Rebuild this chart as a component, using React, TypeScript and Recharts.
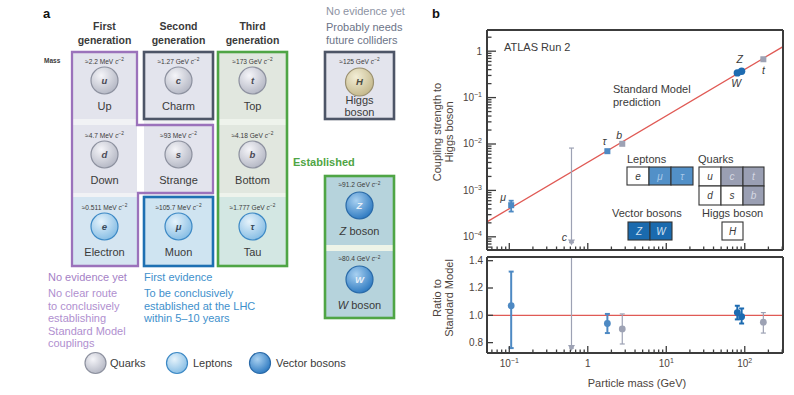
import React from "react";
import { ComposedChart, Scatter, Line, XAxis, YAxis, ErrorBar, ReferenceLine } from "recharts";

const FONT = '"Liberation Sans", Arial, sans-serif';
const INK = "#3a3a3a";
const AXIS_INK = "#4d443d";
const FRAME = "#3c3c3c";

// ---- panel b: ATLAS Run 2 couplings ----
const particles = ["μ", "c", "τ", "b", "W", "Z", "t"];
const families = ["lepton", "quark", "lepton", "quark", "boson", "boson", "quark"];
const massGeV = [0.1057, 0.62, 1.777, 2.75, 80.4, 91.2, 172.5];
const coupling = [0.00048, 0.000075, 0.007, 0.0101, 0.34, 0.37, 0.67];
const couplingErrLow = [0.00013, 0, 0.0004, 0.0007, 0.01, 0.01, 0.04];
const couplingErrHigh = [0.00012, 0.0081, 0.0004, 0.0007, 0.01, 0.01, 0.03];
const ratio = [1.07, 0.76, 0.94, 0.9, 1.02, 0.99, 0.95];
const ratioErrLow = [0.31, 0, 0.07, 0.11, 0.05, 0.05, 0.08];
const ratioErrHigh = [0.25, 0.67, 0.07, 0.11, 0.05, 0.06, 0.07];

const smLineMass = [0.052, 307];
const smLineCoupling = [0.00021, 1.25];

const X_DOMAIN = [0.052, 307];
const Y_DOMAIN = [0.000052, 2.86];
const R_DOMAIN = [0.724, 1.427];
const X_MAJOR = [0.1, 1, 10, 100];
const X_LABELS = [["10", "−1"], ["1", ""], ["10", "1"], ["10", "2"]];
const Y_MAJOR = [0.0001, 0.001, 0.01, 0.1, 1];
const Y_LABELS = [["10", "−4"], ["10", "−3"], ["10", "−2"], ["10", "−1"], ["1", ""]];
const R_TICKS = [0.8, 1.0, 1.2, 1.4];
const R_LABELS = ["0.8", "1.0", "1.2", "1.4"];

// ---- panel a: particle table ----
const cellSymbols = ["u", "c", "t", "d", "s", "b", "e", "μ", "τ"];
const cellNames = ["Up", "Charm", "Top", "Down", "Strange", "Bottom", "Electron", "Muon", "Tau"];
const cellMasses = ["≈2.2 MeV", "≈1.27 GeV", "≈173 GeV", "≈4.7 MeV", "≈93 MeV", "≈4.18 GeV", "≈0.511 MeV", "≈105.7 MeV", "≈1.777 GeV"];
const cellKinds = ["quark", "quark", "quark", "quark", "quark", "quark", "lepton", "lepton", "lepton"];
const bosonSymbols = ["H", "Z", "W"];
const bosonMasses = ["≈125 GeV", "≈91.2 GeV", "≈80.4 GeV"];
const generations = ["First", "Second", "Third"];
const legendKinds = ["quark", "lepton", "boson"];
const legendNames = ["Quarks", "Leptons", "Vector bosons"];

const familyColor: Record<string, string> = { lepton: "#4d89c3", quark: "#9da2b4", boson: "#1d6bb1" };

const points = particles.map((name, i) => ({
  name,
  family: families[i],
  mass: massGeV[i],
  coupling: coupling[i],
  cErr: [couplingErrLow[i], couplingErrHigh[i]],
  ratio: ratio[i],
  rErr: [ratioErrLow[i], ratioErrHigh[i]],
}));
const smLine = smLineMass.map((mass, i) => ({ mass, coupling: smLineCoupling[i] }));

function logTicks(majors: number[], lo: number, hi: number) {
  const out: number[] = [];
  [majors[0] / 10, ...majors].forEach((d) => {
    for (let k = 1; k < 10; k++) {
      const v = k === 1 ? d : d * k;
      if (v >= lo && v <= hi) out.push(v);
    }
  });
  return out;
}
const xTicks = logTicks(X_MAJOR, X_DOMAIN[0], X_DOMAIN[1]);
const yTicks = logTicks(Y_MAJOR, Y_DOMAIN[0], Y_DOMAIN[1]);

function Pow({ x, y, base, exp, anchor }: any) {
  return (
    <text x={x} y={y} textAnchor={anchor} fontSize={10} fill={AXIS_INK} fontFamily={FONT}>
      {base}
      {exp ? (
        <tspan dy={-4} fontSize={7}>
          {exp}
        </tspan>
      ) : null}
    </text>
  );
}

// dir 1: axis at bottom, ticks go up; dir -1: axis at top, ticks go down
const makeXTick = (dir: number, labels: boolean) => (p: any) => {
  const v = p.payload.value;
  const mi = X_MAJOR.indexOf(v);
  const len = mi >= 0 ? 7 : 3.5;
  return (
    <g>
      <line x1={p.x} x2={p.x} y1={p.y} y2={p.y - dir * len} stroke={FRAME} strokeWidth={1.3} />
      {labels && mi >= 0 ? <Pow x={p.x} y={p.y + 14} base={X_LABELS[mi][0]} exp={X_LABELS[mi][1]} anchor="middle" /> : null}
    </g>
  );
};

const CouplingTick = (p: any) => {
  const v = p.payload.value;
  const mi = Y_MAJOR.indexOf(v);
  const len = mi >= 0 ? 9 : 4.5;
  return (
    <g>
      <line x1={p.x} x2={p.x + len} y1={p.y} y2={p.y} stroke={FRAME} strokeWidth={1.3} />
      {mi >= 0 ? <Pow x={p.x - 5} y={p.y + 3.5} base={Y_LABELS[mi][0]} exp={Y_LABELS[mi][1]} anchor="end" /> : null}
    </g>
  );
};

const RatioTick = (p: any) => {
  const i = R_TICKS.indexOf(p.payload.value);
  return (
    <g>
      <line x1={p.x} x2={p.x + 6} y1={p.y} y2={p.y} stroke={FRAME} strokeWidth={1.3} />
      <text x={p.x - 4} y={p.y + 3.5} textAnchor="end" fontSize={10} fill={AXIS_INK} fontFamily={FONT}>
        {R_LABELS[i]}
      </text>
    </g>
  );
};

const topLabelOffset: Record<string, number[]> = {
  "μ": [-8, -4],
  c: [-7, -2],
  "τ": [-3, -6],
  b: [-3, -5],
  Z: [-2, -8],
  W: [-1, 14],
  t: [0, 15],
};

function TopMarker(props: any) {
  const { cx, cy, payload } = props;
  if (cx == null || cy == null) return null;
  const color = familyColor[payload.family];
  const off = topLabelOffset[payload.name];
  let mark;
  if (payload.name === "c") mark = <path d={`M${cx - 3.5},${cy - 3} L${cx + 3.5},${cy - 3} L${cx},${cy + 3} Z`} fill={color} />;
  else if (payload.family === "boson") mark = <circle cx={cx} cy={cy} r={3.7} fill={color} />;
  else mark = <rect x={cx - 3} y={cy - 3} width={6} height={6} fill={color} />;
  return (
    <g>
      {mark}
      <text x={cx + off[0]} y={cy + off[1]} textAnchor="middle" fontSize={10.5} fontStyle="italic" fill={INK} fontFamily={FONT}>
        {payload.name}
      </text>
    </g>
  );
}

function RatioMarker(props: any) {
  const { cx, cy, payload } = props;
  if (cx == null || cy == null) return null;
  const color = familyColor[payload.family];
  if (payload.name === "c") return <path d={`M${cx - 3.5},${cy - 3} L${cx + 3.5},${cy - 3} L${cx},${cy + 3} Z`} fill={color} />;
  return <circle cx={cx} cy={cy} r={3.4} fill={color} />;
}

const frameLine = { stroke: FRAME, strokeWidth: 2 };
const famList = ["quark", "lepton", "boson"];

// axes need a non-zero size to render, so each takes 1px out of the margins
function CouplingChart() {
  return (
    <ComposedChart width={374} height={260} margin={{ top: 29, right: 10, bottom: 9, left: 66 }}>
      <XAxis dataKey="mass" type="number" scale="log" domain={X_DOMAIN} allowDataOverflow ticks={xTicks} interval={0}
        tick={makeXTick(1, false)} tickLine={false} tickSize={0} tickMargin={0} height={1} axisLine={frameLine} />
      <XAxis xAxisId="top" orientation="top" type="number" scale="log" domain={X_DOMAIN} allowDataOverflow
        tick={false} tickLine={false} height={1} axisLine={frameLine} />
      <YAxis dataKey="coupling" type="number" scale="log" domain={Y_DOMAIN} allowDataOverflow ticks={yTicks} interval={0}
        tick={CouplingTick} tickLine={false} tickSize={0} tickMargin={0} width={1} axisLine={frameLine} />
      <YAxis yAxisId="right" orientation="right" type="number" scale="log" domain={Y_DOMAIN} allowDataOverflow
        tick={false} tickLine={false} width={1} axisLine={frameLine} />
      <Line data={smLine} dataKey="coupling" stroke="#e05a55" strokeWidth={1.3} dot={false} isAnimationActive={false} />
      {famList.map((f) => (
        <Scatter key={f} data={points.filter((p) => p.family === f)} dataKey="coupling" shape={TopMarker} isAnimationActive={false}>
          <ErrorBar dataKey="cErr" direction="y" width={2.5} stroke={familyColor[f]} strokeWidth={f === "quark" ? 1.2 : 1.8} />
        </Scatter>
      ))}
    </ComposedChart>
  );
}

function RatioChart() {
  return (
    <ComposedChart width={374} height={145} margin={{ top: 6, right: 10, bottom: 41, left: 66 }}>
      <XAxis dataKey="mass" type="number" scale="log" domain={X_DOMAIN} allowDataOverflow ticks={xTicks} interval={0}
        tick={makeXTick(1, true)} tickLine={false} tickSize={0} tickMargin={0} height={1} axisLine={frameLine} />
      <XAxis xAxisId="top" orientation="top" type="number" scale="log" domain={X_DOMAIN} allowDataOverflow ticks={xTicks} interval={0}
        tick={makeXTick(-1, false)} tickLine={false} tickSize={0} tickMargin={0} height={1} axisLine={frameLine} />
      <YAxis dataKey="ratio" type="number" domain={R_DOMAIN} allowDataOverflow ticks={R_TICKS} interval={0}
        tick={RatioTick} tickLine={false} tickSize={0} tickMargin={0} width={1} axisLine={frameLine} />
      <YAxis yAxisId="right" orientation="right" type="number" domain={R_DOMAIN} allowDataOverflow
        tick={false} tickLine={false} width={1} axisLine={frameLine} />
      <ReferenceLine y={1} stroke="#e05a55" strokeWidth={1.3} />
      {famList.map((f) => (
        <Scatter key={f} data={points.filter((p) => p.family === f)} dataKey="ratio" shape={RatioMarker} isAnimationActive={false}>
          <ErrorBar dataKey="rErr" direction="y" width={2.5} stroke={familyColor[f]} strokeWidth={f === "quark" ? 1.2 : 2} />
        </Scatter>
      ))}
    </ComposedChart>
  );
}

// ---- panel a drawing ----
const ballGrad: Record<string, string[]> = {
  quark: ["#f5f5f9", "#b3b6c3", "#8d919f", "#4a4a55"],
  lepton: ["#e6f3fb", "#84bce4", "#3d89c5", "#3a4a5a"],
  boson: ["#a9d1f1", "#2b78c0", "#2a6aa8", "#e8f0f8"],
  higgs: ["#f3eed6", "#c3b78a", "#9a9070", "#4a4a40"],
};

function Ball({ cx, cy, r, kind, letter }: any) {
  const g = ballGrad[kind];
  return (
    <g>
      <circle cx={cx} cy={cy} r={r} fill={`url(#grad-${kind})`} stroke={g[2]} strokeWidth={1.2} />
      {letter ? (
        <text x={cx} y={cy + 3.4} textAnchor="middle" fontSize={9.5} fontStyle="italic" fontWeight="bold" fill={g[3]} fontFamily={FONT}>
          {letter}
        </text>
      ) : null}
    </g>
  );
}

function MassLabel({ x, y, text }: any) {
  return (
    <text x={x} y={y} textAnchor="middle" fontSize={6.6} fill={INK} fontFamily={FONT}>
      {text} <tspan fontStyle="italic">c</tspan>
      <tspan dy={-2.5} fontSize={4.8}>−2</tspan>
    </text>
  );
}

const colLeft = [72, 144, 218];
const colWidth = [65, 69, 69];
const rowTop = [52, 125, 197];
const rowBottom = [119, 193, 266];
const rowAnchor = [52, 126, 198];
const cellFill = ["#e3e4ed", "#e3e4ed", "#e1e7df", "#e3e4ed", "#e3e4ed", "#e1e7df", "#d5e5f1", "#cfe4f1", "#d3e7e3"];

function Cell({ i }: { i: number }) {
  const r = Math.floor(i / 3);
  const c = i % 3;
  const cx = colLeft[c] + colWidth[c] / 2;
  const a = rowAnchor[r];
  return (
    <g>
      <rect x={colLeft[c]} y={rowTop[r]} width={colWidth[c]} height={rowBottom[r] - rowTop[r]} fill={cellFill[i]} />
      <MassLabel x={cx} y={a + 11.5} text={cellMasses[i]} />
      <Ball cx={cx} cy={a + 28.5} r={13.5} kind={cellKinds[i]} letter={cellSymbols[i]} />
      <text x={cx} y={a + 57.5} textAnchor="middle" fontSize={11} fill={INK} fontFamily={FONT}>
        {cellNames[i]}
      </text>
    </g>
  );
}

function LegendBox({ x, y, w, h, fill, letter, color }: any) {
  return (
    <g>
      <rect x={x} y={y} width={w} height={h} fill={fill} stroke="#333" strokeWidth={1.1} />
      <text x={x + w / 2} y={y + h / 2 + 3.6} textAnchor="middle" fontSize={10} fontStyle="italic" fill={color} fontFamily={FONT}>
        {letter}
      </text>
    </g>
  );
}

function Background() {
  const t = { fontFamily: FONT, fontSize: 11 };
  return (
    <svg width={794} height={395} style={{ position: "absolute", left: 0, top: 0 }}>
      <defs>
        {Object.keys(ballGrad).map((k) => (
          <radialGradient key={k} id={`grad-${k}`} cx="38%" cy="32%" r="72%">
            <stop offset="0%" stopColor={ballGrad[k][0]} />
            <stop offset="100%" stopColor={ballGrad[k][1]} />
          </radialGradient>
        ))}
      </defs>
      {/* panel a */}
      <text x={43} y={18} fontSize={13} fontWeight="bold" fill="#111" fontFamily={FONT}>a</text>
      {generations.map((g, c) => (
        <text key={g} x={colLeft[c] + colWidth[c] / 2} y={30} textAnchor="middle" fontSize={10.5} fontWeight="bold" fill={INK} fontFamily={FONT}>
          {g}
          <tspan x={colLeft[c] + colWidth[c] / 2} dy={13.5}>generation</tspan>
        </text>
      ))}
      <text x={44} y={63} fontSize={6.5} fontWeight="bold" fill={INK} fontFamily={FONT}>Mass</text>
      <rect x={72} y={52} width={65} height={214} fill="#f1f2f5" />
      <rect x={144} y={52} width={69} height={214} fill="#f1f2f5" />
      <rect x={218} y={52} width={69} height={214} fill="#eef3ec" />
      {cellSymbols.map((_, i) => (
        <Cell key={i} i={i} />
      ))}
      {/* Higgs */}
      <rect x={325} y={52} width={69} height={67} fill="#e3e4ed" />
      <MassLabel x={359.5} y={63.5} text={bosonMasses[0]} />
      <Ball cx={359.5} cy={82} r={14} kind="higgs" letter={bosonSymbols[0]} />
      <text x={359.5} y={104} textAnchor="middle" {...t} fill={INK}>Higgs</text>
      <text x={359.5} y={116} textAnchor="middle" {...t} fill={INK}>boson</text>
      {/* Z and W */}
      <rect x={325} y={176} width={69} height={142} fill="#eef4e8" />
      <rect x={325} y={176} width={69} height={69} fill="#b6d3dc" />
      <rect x={325} y={251} width={69} height={67} fill="#b6d3dc" />
      {[176, 250].map((a, k) => (
        <g key={k}>
          <MassLabel x={359.5} y={a + 11} text={bosonMasses[k + 1]} />
          <Ball cx={359.5} cy={a + 29.5} r={13.5} kind="boson" letter={bosonSymbols[k + 1]} />
          <text x={359.5} y={a + 59} textAnchor="middle" {...t} fill={INK}>
            <tspan fontStyle="italic">{bosonSymbols[k + 1]}</tspan> boson
          </text>
        </g>
      ))}
      {/* group borders */}
      <polygon points="72,52 137,52 137,125 213,125 213,193 138,193 138,266 72,266" fill="none" stroke="#9b72bb" strokeWidth={2.3} />
      <rect x={144} y={52} width={69} height={67} fill="none" stroke="#4d5567" strokeWidth={2.6} />
      <rect x={144} y={197} width={69} height={69} fill="none" stroke="#1e70b2" strokeWidth={2.6} />
      <rect x={218} y={52} width={69} height={214} fill="none" stroke="#4fa545" strokeWidth={2.6} />
      <rect x={325} y={52} width={69} height={67} fill="none" stroke="#4d5567" strokeWidth={2.6} />
      <rect x={325} y={176} width={69} height={142} fill="none" stroke="#4fa545" strokeWidth={2.6} />
      {/* annotations */}
      <text x={326} y={15} {...t} fill="#8d93a3">No evidence yet</text>
      <text x={326} y={31} {...t} fill="#6c7488">Probably needs</text>
      <text x={326} y={43.5} {...t} fill="#6c7488">future colliders</text>
      <text x={293} y={166} {...t} fontWeight="bold" fill="#4fa545">Established</text>
      <text x={48} y={281} {...t} fill="#a57fc6">No evidence yet</text>
      {["No clear route", "to conclusively", "establishing", "Standard Model", "couplings"].map((s, k) => (
        <text key={s} x={48} y={297 + k * 12.5} {...t} fill="#b08fcf">{s}</text>
      ))}
      <text x={144} y={281} {...t} fill="#3e90cc">First evidence</text>
      {["To be conclusively", "established at the LHC", "within 5–10 years"].map((s, k) => (
        <text key={s} x={144} y={297 + k * 12.5} {...t} fill="#3e90cc">{s}</text>
      ))}
      {legendKinds.map((k, i) => (
        <g key={k}>
          <Ball cx={[95.5, 177, 260][i]} cy={363} r={10.5} kind={k} />
          <text x={[110, 193, 276][i]} y={367} {...t} fill={INK}>{legendNames[i]}</text>
        </g>
      ))}

      {/* panel b annotations */}
      <text x={432} y={18} fontSize={13} fontWeight="bold" fill="#111" fontFamily={FONT}>b</text>
      <text x={504} y={51} {...t} fill={INK}>ATLAS Run 2</text>
      <text x={613} y={93} {...t} fill={INK}>Standard Model</text>
      <text x={613} y={106} {...t} fill={INK}>prediction</text>
      <text x={627} y={163} {...t} fill={INK}>Leptons</text>
      <text x={698} y={163} {...t} fill={INK}>Quarks</text>
      <text x={612} y={217} {...t} fill={INK}>Vector bosons</text>
      <text x={702} y={217} {...t} fill={INK}>Higgs boson</text>
      <LegendBox x={627} y={167} w={22} h={18} fill="#fff" letter="e" color={INK} />
      <LegendBox x={649} y={167} w={22} h={18} fill="#5290c8" letter="μ" color="#a9c9e8" />
      <LegendBox x={671} y={167} w={22} h={18} fill="#5290c8" letter="τ" color="#a9c9e8" />
      <LegendBox x={699} y={167} w={22} h={19} fill="#fff" letter="u" color={INK} />
      <LegendBox x={721} y={167} w={22} h={19} fill="#9a9fb3" letter="c" color="#d6d9e3" />
      <LegendBox x={743} y={167} w={21} h={19} fill="#9a9fb3" letter="t" color="#d6d9e3" />
      <LegendBox x={699} y={186} w={22} h={19} fill="#fff" letter="d" color={INK} />
      <LegendBox x={721} y={186} w={22} h={19} fill="#fff" letter="s" color={INK} />
      <LegendBox x={743} y={186} w={21} h={19} fill="#9a9fb3" letter="b" color="#d6d9e3" />
      <LegendBox x={628} y={222} w={22} h={18} fill="#1a6aae" letter="Z" color="#d0e1f1" />
      <LegendBox x={650} y={222} w={22} h={18} fill="#1a6aae" letter="W" color="#d0e1f1" />
      <LegendBox x={722} y={222} w={21} h={18} fill="#fff" letter="H" color={INK} />
      <text transform="translate(441,132) rotate(-90)" textAnchor="middle" {...t} fill={AXIS_INK}>Coupling strength to</text>
      <text transform="translate(453,132) rotate(-90)" textAnchor="middle" {...t} fill={AXIS_INK}>Higgs boson</text>
      <text transform="translate(441,298) rotate(-90)" textAnchor="middle" {...t} fill={AXIS_INK}>Ratio to</text>
      <text transform="translate(453,298) rotate(-90)" textAnchor="middle" {...t} fill={AXIS_INK}>Standard Model</text>
      <text x={637} y={387} textAnchor="middle" {...t} fill={AXIS_INK}>Particle mass (GeV)</text>
    </svg>
  );
}

export default function App() {
  return (
    <div style={{ position: "absolute", left: 0, top: 0, width: 794, height: 395, background: "#fff", fontFamily: FONT }}>
      <Background />
      <div style={{ position: "absolute", left: 420, top: 0 }}>
        <CouplingChart />
      </div>
      <div style={{ position: "absolute", left: 420, top: 250 }}>
        <RatioChart />
      </div>
    </div>
  );
}
